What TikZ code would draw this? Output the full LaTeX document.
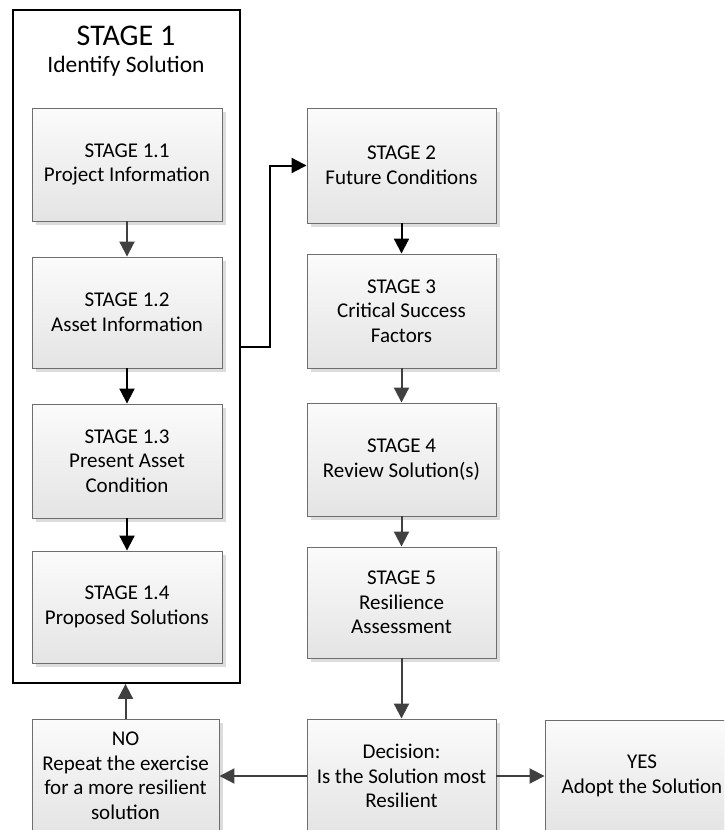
\documentclass[tikz,border=0pt]{standalone}
\usepackage{fontspec}
\setmainfont{Carlito}
\usetikzlibrary{arrows.meta,shadows}

\definecolor{arrowgray}{HTML}{404040}
\definecolor{boxline}{HTML}{6E6E6E}
\definecolor{boxtop}{HTML}{FBFBFB}
\definecolor{boxbottom}{HTML}{E4E4E4}
\definecolor{shadowgray}{HTML}{DCDCDC}

\tikzset{
  stagebox/.style={rectangle, draw=boxline, line width=0.9pt,
    top color=boxtop, bottom color=boxbottom,
    drop shadow={shadow xshift=4pt, shadow yshift=-4pt, fill=shadowgray, opacity=1},
    align=center, inner sep=2pt,
    font=\fontsize{21}{24.5}\selectfont},
  outerbox/.style={rectangle, draw=black, line width=1.8pt, fill=white},
  grayarrow/.style={draw=arrowgray, line width=2pt,
    -{Triangle[length=15pt,width=15pt]}},
  blackarrow/.style={draw=black, line width=2pt,
    -{Triangle[length=15pt,width=15pt]}},
}

\begin{document}
\begin{tikzpicture}[x=1pt,y=-1pt]
  \useasboundingbox (0,0) rectangle (724,830);
  \clip (0,0) rectangle (724,830);

  % Stage 1 frame and its heading
  \node[outerbox, minimum width=227pt, minimum height=673pt] (outer) at (126.5,346.5) {};
  \node[anchor=base, font=\fontsize{30}{32}\selectfont, inner sep=0pt] (t1) at (126,45.5) {STAGE 1};
  \node[anchor=base, font=\fontsize{23.5}{26}\selectfont, inner sep=0pt] (t2) at (126,72.5) {Identify Solution};

  % Sub-stages of stage 1
  \node[stagebox, minimum width=190pt, minimum height=113pt] (s11) at (127,164.5) {STAGE 1.1\\Project Information};
  \node[stagebox, minimum width=190pt, minimum height=111pt] (s12) at (127,312.5) {STAGE 1.2\\Asset Information};
  \node[stagebox, minimum width=190pt, minimum height=114pt] (s13) at (127,461) {STAGE 1.3\\Present Asset\\Condition};
  \node[stagebox, minimum width=190pt, minimum height=112pt] (s14) at (127,607) {STAGE 1.4\\Proposed Solutions};

  % Main column
  \node[stagebox, minimum width=189pt, minimum height=115pt] (s2) at (401.5,165.5) {STAGE 2\\Future Conditions};
  \node[stagebox, minimum width=189pt, minimum height=114pt] (s3) at (401.5,311) {STAGE 3\\Critical Success\\Factors};
  \node[stagebox, minimum width=189pt, minimum height=113pt] (s4) at (401.5,459.5) {STAGE 4\\Review Solution(s)};
  \node[stagebox, minimum width=189pt, minimum height=111pt] (s5) at (401.5,602.5) {STAGE 5\\Resilience\\Assessment};

  % Decision row
  \node[stagebox, minimum width=189pt, minimum height=114pt] (dec) at (401.5,776) {Decision:\\Is the Solution most\\Resilient};
  \node[stagebox, minimum width=187pt, minimum height=114pt] (no) at (125.5,776) {NO\\Repeat the exercise\\for a more resilient\\solution};
  \node[stagebox, minimum width=194pt, minimum height=112pt] (yes) at (642,776) {YES\\Adopt the Solution};

  % Connectors
  \draw[grayarrow] (s11) -- (s12);
  \draw[blackarrow] (s12) -- (s13);
  \draw[blackarrow] (s13) -- (s14);
  \draw[blackarrow] (outer.east) -- ++(29,0) |- (s2.west);
  \draw[blackarrow] (s2) -- (s3);
  \draw[grayarrow] (s3) -- (s4);
  \draw[grayarrow] (s4) -- (s5);
  \draw[grayarrow] (s5) -- (dec);
  \draw[grayarrow] (dec.west) -- (no.east);
  \draw[grayarrow] (dec.east) -- (yes.west);
  \draw[grayarrow] (no.north) -- (no.north |- outer.south);
\end{tikzpicture}
\end{document}
